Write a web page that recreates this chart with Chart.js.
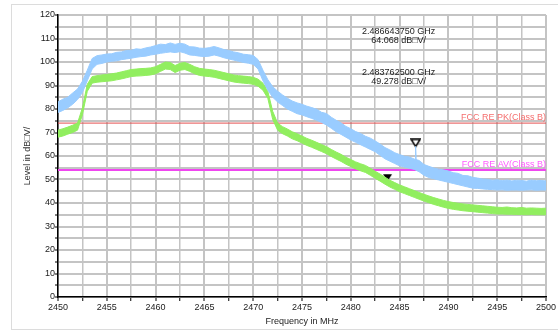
<!DOCTYPE html>
<html>
<head>
<meta charset="utf-8">
<script src="https://cdn.jsdelivr.net/npm/chart.js@4"></script>
<style>
    html, body { margin: 0; padding: 0; background: #fff; overflow: hidden; }
    #wrap { position: relative; width: 558px; height: 331px; }
    #frame { position: absolute; left: 11px; top: 4px; width: 600px; height: 324px; border: 1px solid #dcdcdc; }
    #spectrum { position: absolute; left: 0; top: 0; }
</style>
</head>
<body>
<div id="wrap">
    <div id="frame"></div>
    <canvas id="spectrum" width="558" height="331"></canvas>
</div>
<script>
// ความถี่ (MHz) ทุก 0.5 MHz
const freqs = [
    2450, 2450.5, 2451, 2451.5, 2452, 2452.5, 2453, 2453.5, 2454, 2454.5,
    2455, 2455.5, 2456, 2456.5, 2457, 2457.5, 2458, 2458.5, 2459, 2459.5,
    2460, 2460.5, 2461, 2461.5, 2462, 2462.5, 2463, 2463.5, 2464, 2464.5,
    2465, 2465.5, 2466, 2466.5, 2467, 2467.5, 2468, 2468.5, 2469, 2469.5,
    2470, 2470.5, 2471, 2471.5, 2472, 2472.5, 2473, 2473.5, 2474, 2474.5,
    2475, 2475.5, 2476, 2476.5, 2477, 2477.5, 2478, 2478.5, 2479, 2479.5,
    2480, 2480.5, 2481, 2481.5, 2482, 2482.5, 2483, 2483.5, 2484, 2484.5,
    2485, 2485.5, 2486, 2486.5, 2487, 2487.5, 2488, 2488.5, 2489, 2489.5,
    2490, 2490.5, 2491, 2491.5, 2492, 2492.5, 2493, 2493.5, 2494, 2494.5,
    2495, 2495.5, 2496, 2496.5, 2497, 2497.5, 2498, 2498.5, 2499, 2499.5,
    2500
];

// Peak trace (ฟ้า) - ขอบบน / ขอบล่างของแถบ noise
const peakHigh = [
    83, 84.2, 85, 86.8, 88.5, 91.8, 96.5, 101.5, 102.7, 103,
    103.4, 103.5, 104.1, 104.3, 104.9, 105, 105.6, 105.4, 106, 106.4,
    107, 107.6, 107.4, 108.1, 107.5, 108, 107.6, 106.5, 106.4, 105.9,
    105.8, 106.1, 106.6, 106, 105.3, 104.9, 104.3, 103.9, 103.3, 103.1,
    102.8, 101, 96.5, 92.5, 89.5, 87.6, 86, 84.6, 83.4, 82.6,
    82, 81.2, 80.6, 79.9, 78.6, 78.1, 76.5, 75.2, 74.1, 72.6,
    71.6, 70.4, 69.6, 68.4, 67.6, 66.4, 65.1, 63.6, 62.6, 61.4,
    60.6, 59.9, 59.6, 58.7, 58.1, 56.4, 55.6, 54.9, 54.4, 54.1,
    53.6, 52.9, 52.6, 51.7, 51.6, 50.9, 50.6, 50.2, 50.1, 49.7,
    49.9, 49.5, 49.8, 49.4, 49.7, 49.6, 49.3, 49.8, 49.5, 49.6,
    49.4
];
const peakLow = [
    78.5, 79.4, 80.5, 82, 84, 87, 92, 97, 99, 99.4,
    100, 100.3, 100.5, 101, 101.3, 101.6, 102, 102.3, 102.5, 103,
    103.3, 103.7, 104, 104.3, 104, 104.4, 103.8, 103, 102.8, 102.5,
    102.3, 102.5, 103, 102.5, 101.8, 101.3, 100.8, 100.3, 99.8, 99.5,
    99, 97, 92, 88, 85, 83, 81.5, 80, 79, 78,
    77.5, 76.7, 76, 75.2, 74.3, 73.2, 71.8, 70.3, 69.2, 68,
    66.8, 65.8, 64.8, 63.8, 62.8, 61.8, 60.3, 58.8, 57.8, 56.8,
    55.8, 55.3, 54.8, 54.3, 53.3, 51.8, 50.8, 50.3, 49.8, 49.3,
    48.8, 48.3, 47.8, 47.3, 46.8, 46.3, 46.2, 46, 45.8, 45.7,
    45.5, 45.6, 45.4, 45.5, 45.5, 45.4, 45.5, 45.6, 45.4, 45.5,
    45.5
];

// Average trace (เขียว)
const avgHigh = [
    71, 71.6, 72.3, 73.1, 74, 80.5, 90.5, 93.8, 94.2, 94.5,
    94.7, 95, 95.3, 95.8, 96.3, 96.8, 97, 97.2, 97.3, 97.5,
    98, 99, 100, 99.8, 98.5, 99.5, 99.8, 99, 98, 97.3,
    97, 96.8, 96.5, 96, 95.5, 95, 94.5, 94.2, 94, 93.8,
    93.5, 92.7, 91, 87.5, 79, 74, 72.5, 71.5, 70.3, 69.5,
    68.5, 67.5, 66.7, 65.8, 64.9, 64, 62.8, 61.7, 60.7, 59.5,
    58.5, 57.5, 56.7, 56, 54.8, 53.5, 52.3, 51, 49.7, 48.7,
    47.7, 46.9, 46.1, 45.3, 44.5, 43.7, 43, 42.3, 41.7, 41.1,
    40.6, 40.2, 39.9, 39.6, 39.4, 39.2, 39, 38.8, 38.6, 38.4,
    38.2, 38.1, 38.3, 38, 37.9, 38.1, 37.8, 37.9, 37.8, 37.7,
    37.8
];
const avgLow = [
    68, 68.5, 69.3, 70, 71, 77.5, 87.5, 91, 91.4, 91.6,
    91.8, 92, 92.4, 92.8, 93.3, 93.8, 94, 94.1, 94.3, 94.5,
    95, 96, 97, 96.8, 95.5, 96.5, 96.8, 96, 95, 94.3,
    94, 93.8, 93.5, 93, 92.5, 92, 91.5, 91.2, 91, 90.8,
    90.5, 89.7, 88, 84.5, 75.5, 71, 69.5, 68.5, 67.3, 66.5,
    65.5, 64.5, 63.7, 62.8, 61.9, 61, 59.8, 58.7, 57.7, 56.5,
    55.5, 54.5, 53.7, 53, 51.8, 50.5, 49.3, 48, 46.8, 45.8,
    44.8, 44, 43.2, 42.4, 41.6, 40.8, 40.1, 39.4, 38.8, 38.2,
    37.7, 37.3, 37, 36.7, 36.5, 36.3, 36.1, 35.9, 35.7, 35.5,
    35.3, 35.3, 35.2, 35.2, 35.1, 35.1, 35, 35.1, 35, 35,
    35
];

// spike ที่ marker 1
const spikeFreqs = [2486.58, 2486.64, 2486.70];
const spikeLevels = [58, 64.07, 58];

// เส้น limit
const limitFreqs = [2450, 2500];
const limitPK = 74;
const limitAV = 54;

// markers
const markerFreqs = [2486.64375, 2483.7625];
const markerLevels = [64.068, 49.278];
const markerLines = [
    ['2.486643750 GHz', '64.068 dB\u25A1V/'],
    ['2.483762500 GHz', '49.278 dB\u25A1V/']
];

const FONT = '"Liberation Sans", Arial, sans-serif';
const BLUE = 'rgb(153, 204, 255)';
const GREEN = 'rgb(145, 238, 95)';

const toXY = (xs, ys) => xs.map((x, i) => ({ x: x, y: ys[i] }));

// รูปสามเหลี่ยมคว่ำ ปลายแหลมอยู่ตรงกลางภาพ
const makeTriangle = (filled) => {
    const c = document.createElement('canvas');
    c.width = 11;
    c.height = 16;
    const g = c.getContext('2d');
    g.beginPath();
    g.moveTo(1, 1);
    g.lineTo(10, 1);
    g.lineTo(5.5, 8);
    g.closePath();
    g.lineWidth = 1.5;
    if (filled) {
        g.fillStyle = '#000';
        g.fill();
    } else {
        g.fillStyle = '#fff';
        g.fill();
        g.strokeStyle = '#000';
        g.stroke();
    }
    return c;
};

// วาดข้อความ limit และ marker
const labelsPlugin = {
    id: 'labels',
    afterDatasetsDraw(chart) {
        const { ctx, scales: { x, y }, chartArea } = chart;
        ctx.save();
        ctx.font = '9px ' + FONT;
        ctx.textAlign = 'right';
        ctx.textBaseline = 'bottom';
        ctx.fillStyle = 'rgb(245, 110, 110)';
        ctx.fillText('FCC RE PK(Class B)', chartArea.right, y.getPixelForValue(limitPK) - 1);
        ctx.fillStyle = 'rgb(255, 90, 255)';
        ctx.fillText('FCC RE AV(Class B)', chartArea.right, y.getPixelForValue(limitAV) - 1);

        ctx.textAlign = 'center';
        ctx.textBaseline = 'middle';
        ctx.fillStyle = '#222';
        const cx = x.getPixelForValue(2484.9);
        const rows = [[113, 109], [95.5, 91.5]];
        markerLines.forEach((lines, i) => {
            ctx.fillText(lines[0], cx, y.getPixelForValue(rows[i][0]));
            ctx.fillText(lines[1], cx, y.getPixelForValue(rows[i][1]));
        });
        ctx.restore();
    }
};

document.addEventListener('DOMContentLoaded', () => {
    const ctx = document.getElementById('spectrum');

    const band = (data, color, fill) => ({
        data: data,
        borderColor: color,
        backgroundColor: color,
        borderWidth: 1,
        pointRadius: 0,
        fill: fill,
        tension: 0
    });

    new Chart(ctx, {
        type: 'line',
        data: {
            datasets: [
                band(toXY(freqs, peakLow), BLUE, false),
                band(toXY(freqs, peakHigh), BLUE, '-1'),
                band(toXY(spikeFreqs, spikeLevels), BLUE, false),
                band(toXY(freqs, avgLow), GREEN, false),
                band(toXY(freqs, avgHigh), GREEN, '-1'),
                {
                    data: toXY(limitFreqs, [limitPK, limitPK]),
                    borderColor: 'rgb(228, 80, 80)',
                    borderWidth: 1,
                    pointRadius: 0,
                    fill: false
                },
                {
                    data: toXY(limitFreqs, [limitAV, limitAV]),
                    borderColor: 'rgb(240, 70, 240)',
                    borderWidth: 2,
                    pointRadius: 0,
                    fill: false
                },
                {
                    type: 'scatter',
                    data: toXY(markerFreqs, markerLevels),
                    pointStyle: [makeTriangle(false), makeTriangle(true)],
                    pointRadius: 5
                }
            ]
        },
        options: {
            responsive: false,
            animation: false,
            layout: {
                padding: { left: 0, top: 15, right: 12, bottom: 0 }
            },
            plugins: {
                legend: { display: false },
                tooltip: { enabled: false }
            },
            scales: {
                x: {
                    type: 'linear',
                    min: 2450,
                    max: 2500,
                    afterFit: (s) => { s.height = 34; },
                    ticks: {
                        stepSize: 2.5,
                        autoSkip: false,
                        maxRotation: 0,
                        padding: 1,
                        color: '#222',
                        font: { family: FONT, size: 9 },
                        callback: (v) => (v % 5 === 0 ? v : '')
                    },
                    grid: {
                        color: '#c4c4c4',
                        lineWidth: (c) => (c.tick && c.tick.value % 5 === 0 ? 2 : 1.5),
                        tickColor: '#000',
                        tickLength: 4,
                        tickWidth: 1
                    },
                    border: { color: '#000', width: 1.5 },
                    title: {
                        display: true,
                        text: 'Frequency in MHz',
                        color: '#222',
                        font: { family: FONT, size: 9 },
                        padding: { top: 0, bottom: 4 }
                    }
                },
                y: {
                    min: 0,
                    max: 120,
                    afterFit: (s) => { s.width = 58; },
                    ticks: {
                        stepSize: 5,
                        autoSkip: false,
                        padding: 0,
                        color: '#222',
                        font: { family: FONT, size: 9 },
                        callback: (v) => (v % 10 === 0 ? v : '')
                    },
                    grid: {
                        color: '#c4c4c4',
                        lineWidth: 2,
                        tickColor: '#000',
                        tickLength: 3,
                        tickWidth: 1
                    },
                    border: { color: '#000', width: 1.5 },
                    title: {
                        display: true,
                        text: 'Level in dB\u25A1V/',
                        color: '#333',
                        font: { family: FONT, size: 9 },
                        padding: { top: 22, bottom: 0 }
                    }
                }
            }
        },
        plugins: [labelsPlugin]
    });
});
</script>
</body>
</html>
